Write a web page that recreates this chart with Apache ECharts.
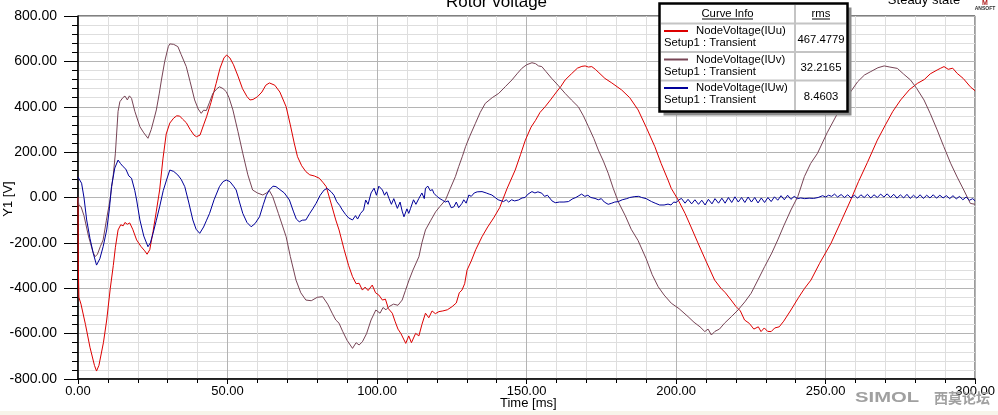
<!DOCTYPE html>
<html>
<head>
<meta charset="utf-8">
<script src="https://cdn.jsdelivr.net/npm/echarts@6/dist/echarts.min.js"></script>
<style>
html,body{margin:0;padding:0;background:#fff;}
#c{width:998px;height:415px;}
</style>
</head>
<body>
<div id="c"></div>
<script>
// ---- data (time ms, voltage V) ----
const seriesNames = ['NodeVoltage(IUu)', 'NodeVoltage(IUv)', 'NodeVoltage(IUw)'];
const setupNames = ['Setup1 : Transient', 'Setup1 : Transient', 'Setup1 : Transient'];
const rmsValues = ['467.4779', '32.2165', '8.4603'];
const xTickValues = [0, 50, 100, 150, 200, 250, 300];
const yTickValues = [-800, -600, -400, -200, 0, 200, 400, 600, 800];

const iuu = [[0,0],[0.1,-300],[0.3,-440],[1,-470],[2.5,-560],[4,-660],[5.5,-740],[6.2,-765],[7,-740],[8.5,-640],[9.6,-540],[10.8,-400],[11.8,-300],[12.5,-220],[13.4,-143],[14.3,-120],[15.1,-125],[15.7,-110],[16.5,-118],[17.3,-112],[18.3,-140],[19.6,-187],[21,-215],[22.3,-235],[23.1,-250],[24,-230],[25.1,-150],[26.2,-60],[27.3,33],[28.4,170],[29.5,280],[30.7,328],[32,350],[33,360],[34,359],[35,345],[36.2,330],[37.5,300],[38.8,275],[39.6,268],[40.8,275],[42,320],[43,356],[44.5,420],[46.2,503],[47.5,570],[48.8,615],[49.7,628],[50.8,615],[52,585],[53.5,535],[55,480],[56.5,445],[57.5,430],[58.5,432],[60,444],[61.5,465],[62.8,495],[64,505],[64.6,512],[65.8,495],[67.5,465],[69.6,400],[71,320],[72.3,240],[73.4,180],[74.8,140],[76.2,114],[77.5,100],[79,95],[80.7,85],[82,65],[83,48],[84.5,-20],[86.2,-99],[87.3,-143],[89,-230],[90.5,-300],[91.8,-349],[93,-380],[94,-378],[95.1,-408],[96,-395],[97,-410],[98.4,-386],[99.5,-420],[100.6,-430],[101.8,-452],[102.8,-448],[103.8,-490],[105.1,-510],[106,-545],[107,-580],[108,-600],[109.6,-643],[110.6,-610],[111.5,-640],[112.9,-599],[114,-610],[115,-560],[116.2,-510],[117.3,-530],[118.4,-500],[119.5,-512],[120.7,-503],[122,-500],[123.5,-495],[125.1,-481],[126.5,-465],[127.5,-420],[128.4,-408],[129.3,-380],[130.1,-320],[131.5,-280],[133,-230],[135.1,-173],[137,-130],[139,-90],[141,-45],[143.5,40],[146.2,121],[148,190],[149.6,253],[151.5,310],[153,340],[154.5,375],[156.2,400],[158,430],[160,465],[161.5,490],[162.9,518],[165,545],[167,570],[168.5,578],[169.6,580],[170.7,575],[171.8,577],[173,565],[174.2,550],[176.2,525],[178.5,505],[181.8,474],[184.5,440],[187.3,386],[190,310],[192.9,224],[195,150],[197.3,77],[198.4,40],[200.7,-11],[203,-70],[205,-130],[207.3,-200],[210,-280],[212.9,-364],[215,-400],[216.5,-420],[218.4,-452],[220,-480],[221.5,-500],[222.9,-540],[224.5,-555],[226,-580],[227.5,-570],[228.4,-591],[229.5,-575],[230.6,-590],[231.8,-591],[233,-575],[234.5,-570],[236,-545],[238.4,-496],[241,-440],[243,-400],[245.1,-364],[248,-290],[251.8,-202],[255,-110],[258.4,-11],[261,70],[264,155],[267.3,253],[270,320],[272.5,380],[275.1,430],[278,475],[280.7,503],[283,520],[285,545],[287.3,562],[288.5,570],[289.6,577],[291,565],[292.5,570],[294,547],[296,525],[298.4,488],[300,470]];

const iuv = [[0,0],[0.3,-35],[1,-40],[2,-80],[3.5,-170],[5,-240],[5.7,-261],[6.5,-250],[7.5,-215],[8.4,-187],[9.5,-100],[10.7,-11],[11.8,100],[12.5,195],[13.4,380],[14,422],[15,440],[15.7,447],[16.5,430],[17.2,448],[17.9,437],[19,380],[20.7,312],[22,285],[23.4,261],[24.5,300],[25.5,350],[26.2,386],[27.2,460],[27.9,518],[29,600],[30.2,665],[30.7,677],[32,675],[33.4,665],[34.5,630],[36.2,577],[37.5,510],[39,430],[40.2,390],[41.2,371],[42,385],[42.9,383],[44,420],[45.1,459],[46.5,480],[47.3,488],[48.5,480],[49.6,466],[50.5,440],[51.8,386],[53.5,290],[55.1,195],[56.8,100],[58.4,33],[60,20],[61.8,11],[63,20],[64,30],[65.1,4],[67,-70],[69.6,-173],[71,-260],[72.9,-364],[74.5,-420],[76.2,-452],[78,-455],[80,-440],[81.8,-437],[83.5,-470],[85,-510],[86.2,-540],[87.3,-554],[88.5,-590],[90,-630],[91.8,-665],[93,-640],[94,-650],[95.1,-636],[96.5,-600],[98,-540],[99.6,-496],[101,-510],[102,-485],[103,-495],[104,-481],[105.5,-470],[107,-475],[108.4,-452],[109.5,-410],[110.7,-364],[112,-320],[114,-261],[115,-200],[116.2,-143],[118,-100],[119.6,-63],[121,-40],[122.9,-11],[124.5,40],[126.2,92],[127.3,136],[128.5,180],[129.6,224],[131,270],[132.9,327],[134.5,375],[136.2,415],[138.5,440],[140.7,459],[143,490],[145.1,518],[146.8,545],[148.4,569],[150,585],[151.8,594],[153,590],[154,580],[155.1,577],[156.5,555],[158.4,525],[160.5,495],[162.9,459],[165,430],[167.3,400],[169,360],[170.7,312],[172.5,260],[174,209],[175.7,160],[177.3,107],[179,40],[180.7,-20],[183,-80],[185,-140],[187.3,-190],[190,-270],[192,-340],[194,-393],[196,-430],[198.4,-466],[201,-490],[204,-525],[206,-550],[208,-570],[209.6,-591],[210.7,-580],[211.8,-606],[213,-590],[214.5,-580],[216.2,-554],[218.5,-525],[220.7,-496],[223,-460],[225.1,-422],[227.5,-360],[229.6,-305],[232,-245],[234,-187],[236,-125],[238.4,-55],[240.7,4],[242.9,92],[245,150],[247.3,195],[250.5,285],[254,371],[257,440],[260.7,510],[263,540],[265.1,555],[267.5,572],[269.6,580],[271.5,575],[274,569],[276,545],[278.4,518],[280.5,480],[282.9,430],[285,370],[287.3,298],[289.5,225],[291.8,151],[294,90],[296.2,33],[298.4,-26],[300,-30]];

const iuw = [[0,90],[0.5,95],[1.2,63],[2,0],[2.9,-99],[4,-180],[5.1,-246],[6.2,-298],[7.3,-270],[8.4,-217],[9.6,-143],[10.5,-50],[11.2,48],[12.3,130],[13.4,165],[14.2,150],[15.1,136],[16,125],[17,95],[17.9,85],[19,30],[19.6,-11],[20.7,-99],[22,-170],[23.4,-217],[24.2,-200],[25.1,-158],[26.2,-100],[27.3,-41],[28.5,30],[29.6,77],[30.7,121],[32,115],[33.4,99],[34.5,80],[35.7,48],[37,-20],[38.4,-99],[39.5,-140],[40.7,-158],[42,-130],[43,-100],[44,-70],[45.5,-10],[47.3,48],[48.5,70],[49.6,77],[50.8,70],[52,50],[52.9,33],[54,-20],[55.1,-70],[56.5,-110],[57.9,-129],[59.2,-115],[60.7,-85],[62,-30],[63,10],[64,33],[65.2,50],[66.2,48],[67.5,35],[69,20],[70.7,-11],[72,-60],[73,-95],[74,-107],[75,-100],[76.2,-99],[77.5,-70],[78.5,-50],[79.6,-26],[81,10],[82.3,33],[83.3,40],[84.6,26],[85.6,10],[86.5,-18],[87.5,-35],[88.4,-55],[89.5,-75],[90.5,-90],[91.8,-99],[92.8,-80],[93.5,-95],[94.5,-70],[95.5,-55],[96.2,-11],[97,-30],[98,20],[99,41],[99.8,10],[100.6,50],[101.8,33],[102.5,10],[103.2,25],[104,-4],[104.8,-30],[105.6,-5],[106.8,-48],[107.7,-20],[108.4,-60],[109,-85],[110,-50],[110.6,-70],[111.2,-48],[112.2,-10],[113,-30],[114,-4],[115,20],[115.8,-5],[116.2,41],[117,50],[117.8,30],[118.5,35],[119,19],[120,5],[121,-5],[121.8,-11],[122.8,-20],[123.8,-15],[124.8,-45],[125.7,-41],[126.5,-20],[127.3,-45],[128.4,-26],[129,-10],[129.8,-25],[130.7,11],[131.5,5],[132.5,20],[133.5,25],[135.1,26],[136.5,20],[137.5,15],[138.4,11],[139.5,0],[140.5,-10],[142.3,-18],[143.2,-10],[144,-20],[145,-10],[146,-15],[147.3,-11],[148.5,-2],[149.5,0],[150.5,15],[151.8,26],[152.8,20],[153.8,25],[155.1,19],[156,5],[157,10],[158.5,-15],[159.6,-23],[161,-20],[162.5,-20],[164,-18],[165.5,-5],[166.5,0],[167.5,8],[168.4,15],[169.5,5],[170.5,10],[171.5,0],[172.9,-4],[174,-10],[175,-5],[176,-20],[177.3,-30],[178.5,-25],[179.5,-20],[180.7,-18],[182,-10],[183.5,-5],[184.5,0],[186.2,4],[187.5,5],[188.5,0],[190,-5],[191.8,-18],[193,-25],[194.5,-33],[196,-33],[197.3,-29],[198.3,-33],[199.2,-20],[200,-22],[201,-10],[201.8,-4],[203,-25],[204,-8],[205.2,-28],[206.3,-10],[207.5,-30],[208.6,-12],[209.7,-33],[210.8,-8],[212,-28],[213,-5],[214.2,-25],[215.3,-3],[216.4,-25],[217.5,0],[218.6,-22],[219.7,3],[220.8,-20],[221.9,0],[223,-22],[224.1,2],[225.2,-20],[226.3,0],[227.4,-24],[228.5,-2],[229.6,-22],[230.7,0],[231.8,-18],[232.9,3],[234,-12],[235.1,8],[236.2,-10],[237.3,10],[238.4,-8],[239.5,5],[240.6,-5],[241.7,-2],[243,-5],[244.5,-3],[246,-4],[247.5,0],[249,8],[250,2],[251,10],[252,5],[253,15],[254,2],[255.2,13],[256.3,0],[257.4,12],[258.5,-2],[259.6,10],[260.7,-3],[261.8,12],[262.9,0],[264,14],[265.1,-2],[266.2,12],[267.3,0],[268.4,15],[269.5,2],[270.6,16],[271.7,0],[272.8,14],[273.9,-3],[275,12],[276.1,-2],[277.2,14],[278.3,-4],[279.4,10],[280.5,-3],[281.6,12],[282.7,-4],[283.8,10],[284.9,-2],[286,12],[287.1,-3],[288.2,10],[289.3,-2],[290.4,8],[291.5,-5],[292.6,8],[293.7,-6],[294.8,5],[295.9,-10],[297,2],[298.1,-12],[299.2,-5],[300,-15]];

const seriesData = [iuu, iuv, iuw];
const seriesColors = ['#dd0000', '#774455', '#000099'];

// ---- chart ----
const FONT = '"Liberation Sans", Arial, sans-serif';
const chart = echarts.init(document.getElementById('c'), null, {renderer: 'canvas'});

const legendX = 659.5, legendY = 3.5, legendW = 188, legendH = 108;
const rowTops = [23.5, 52, 80.5];
const legendEls = [
  {type: 'rect', shape: {x: legendX + 4, y: legendY + 4, width: legendW, height: legendH}, style: {fill: '#8c8c8c'}, z: 100},
  {type: 'rect', shape: {x: legendX, y: legendY, width: legendW, height: legendH}, style: {fill: '#fff', stroke: '#000', lineWidth: 2.5}, z: 101},
  {type: 'line', shape: {x1: 795, y1: legendY + 1.5, x2: 795, y2: legendY + legendH - 1.5}, style: {stroke: '#c4c4c4', lineWidth: 2}, z: 102},
  {type: 'text', x: 727.5, y: 13.5, style: {text: 'Curve Info', font: '11.3px ' + FONT, fill: '#000', align: 'center', verticalAlign: 'middle'}, z: 103},
  {type: 'line', shape: {x1: 702, y1: 19, x2: 753, y2: 19}, style: {stroke: '#000', lineWidth: 1}, z: 103},
  {type: 'text', x: 821, y: 13.5, style: {text: 'rms', font: '11.3px ' + FONT, fill: '#000', align: 'center', verticalAlign: 'middle'}, z: 103},
  {type: 'line', shape: {x1: 812, y1: 19, x2: 830, y2: 19}, style: {stroke: '#000', lineWidth: 1}, z: 103}
];
rowTops.forEach(function (top, i) {
  legendEls.push({type: 'line', shape: {x1: legendX + 1.5, y1: top, x2: legendX + legendW - 1.5, y2: top}, style: {stroke: '#c4c4c4', lineWidth: 2}, z: 102});
  legendEls.push({type: 'line', shape: {x1: 664, y1: top + 7.5, x2: 688, y2: top + 7.5}, style: {stroke: seriesColors[i], lineWidth: 2}, z: 103});
  legendEls.push({type: 'text', x: 696, y: top + 7.5, style: {text: seriesNames[i], font: '11.3px ' + FONT, fill: '#000', align: 'left', verticalAlign: 'middle'}, z: 103});
  legendEls.push({type: 'text', x: 664, y: top + 19.5, style: {text: setupNames[i], font: '11.3px ' + FONT, fill: '#000', align: 'left', verticalAlign: 'middle'}, z: 103});
  legendEls.push({type: 'text', x: 821, y: top + 16, style: {text: rmsValues[i], font: '11.3px ' + FONT, fill: '#000', align: 'center', verticalAlign: 'middle'}, z: 103});
});

const graphics = [
  {type: 'rect', shape: {x: 0, y: 411, width: 998, height: 4}, style: {fill: '#f7f4ea'}, z: -1, silent: true},
  {type: 'text', x: 496.5, y: 2, style: {text: 'Rotor voltage', font: '17px ' + FONT, fill: '#000', align: 'center', verticalAlign: 'middle'}},
  {type: 'text', x: 924, y: 0, style: {text: 'Steady state', font: '13px ' + FONT, fill: '#000', align: 'center', verticalAlign: 'middle'}},
  {type: 'text', x: 985, y: 3, style: {text: 'M', font: 'bold 7px ' + FONT, fill: '#b02020', align: 'center', verticalAlign: 'middle'}},
  {type: 'text', x: 985, y: 9, style: {text: 'ANSOFT', font: 'bold 5px ' + FONT, fill: '#333', align: 'center', verticalAlign: 'middle'}},
  {type: 'text', x: 8, y: 199, rotation: Math.PI / 2, style: {text: 'Y1 [V]', font: '13px ' + FONT, fill: '#000', align: 'center', verticalAlign: 'middle'}},
  {type: 'text', x: 500, y: 403, style: {text: 'Time [ms]', font: '13px ' + FONT, fill: '#000', align: 'left', verticalAlign: 'middle'}},
  {type: 'text', x: 855, y: 398, scaleX: 1.35, style: {text: 'SIMOL', font: 'bold 15px ' + FONT, fill: '#a0a0a0', align: 'left', verticalAlign: 'middle'}, z: 50},
  {type: 'text', x: 934, y: 398, style: {text: '西莫论坛', font: 'bold 14px "Noto Sans CJK SC", sans-serif', fill: '#a0a0a0', align: 'left', verticalAlign: 'middle'}, z: 50}
].concat(legendEls);

const fmt = function (v) { return Number(v).toFixed(2); };

chart.setOption({
  animation: false,
  backgroundColor: '#fff',
  textStyle: {fontFamily: FONT},
  grid: {left: 78, right: 20, top: 16, bottom: 36, show: true, borderColor: '#000', borderWidth: 1, backgroundColor: '#fff'},
  xAxis: {
    type: 'value', min: xTickValues[0], max: xTickValues[xTickValues.length - 1], interval: 50,
    axisLine: {show: true, onZero: false, lineStyle: {color: '#000', width: 1.5}},
    axisTick: {show: true, length: 5, lineStyle: {color: '#000'}},
    minorTick: {show: true, splitNumber: 5, length: 4, lineStyle: {color: '#000'}},
    axisLabel: {formatter: fmt, color: '#000', fontSize: 13, margin: 6, fontFamily: FONT},
    splitLine: {show: true, lineStyle: {color: '#b4b4b4', width: 1}},
    minorSplitLine: {show: true, lineStyle: {color: '#dedede', width: 1}}
  },
  yAxis: {
    type: 'value', min: yTickValues[0], max: yTickValues[yTickValues.length - 1], interval: 200,
    axisLine: {show: true, onZero: false, lineStyle: {color: '#000', width: 1.5}},
    axisTick: {show: true, length: 14, lineStyle: {color: '#000'}},
    minorTick: {show: true, splitNumber: 5, length: 6, lineStyle: {color: '#000'}},
    axisLabel: {formatter: fmt, color: '#000', fontSize: 14, margin: 21, fontFamily: FONT},
    splitLine: {show: true, lineStyle: {color: '#b4b4b4', width: 1}},
    minorSplitLine: {show: true, lineStyle: {color: '#dedede', width: 1}}
  },
  series: seriesData.map(function (d, i) {
    return {
      name: seriesNames[i], type: 'line', data: d, showSymbol: false, symbol: 'none',
      lineStyle: {color: seriesColors[i], width: 1}, itemStyle: {color: seriesColors[i]},
      z: 10 + i
    };
  }),
  graphic: graphics
});
</script>
</body>
</html>
